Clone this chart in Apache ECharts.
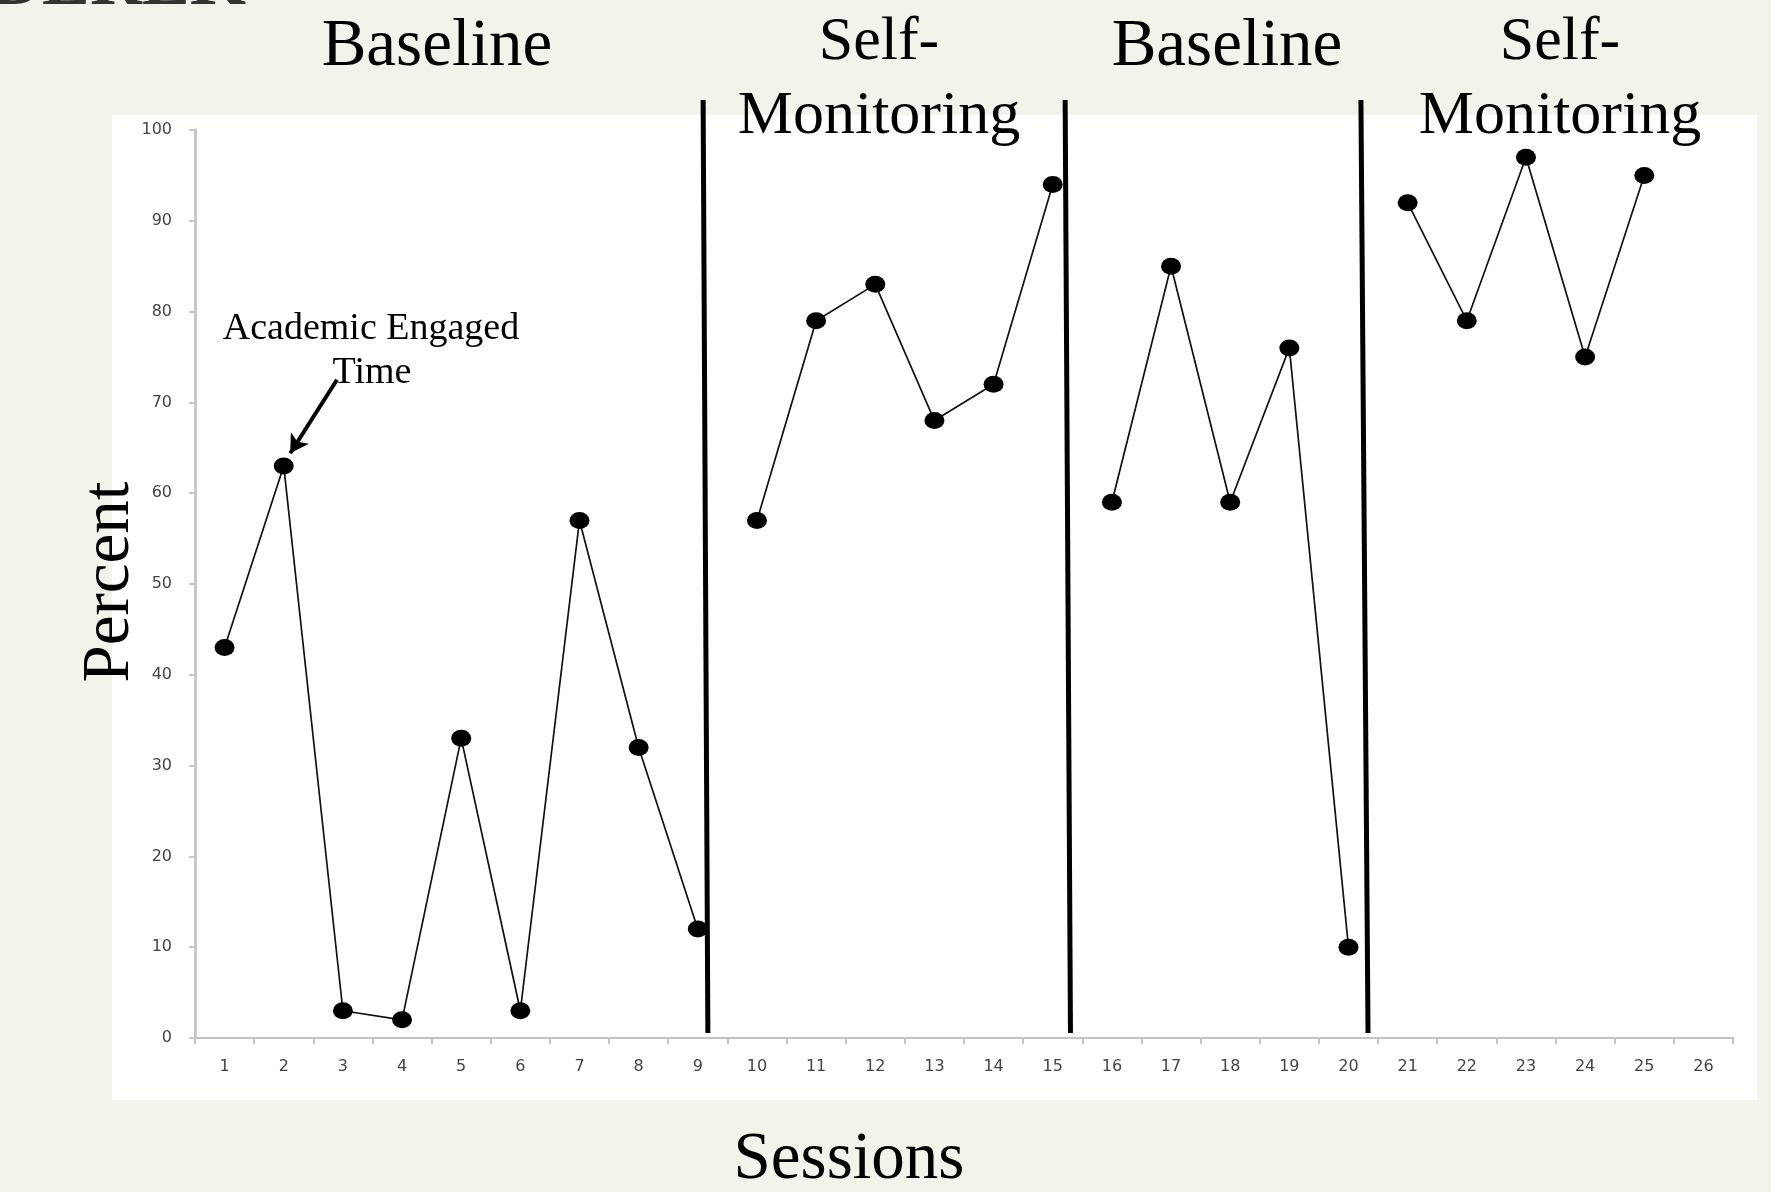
<!DOCTYPE html>
<html>
<head>
<meta charset="utf-8">
<script src="https://cdn.jsdelivr.net/npm/echarts@6/dist/echarts.min.js"></script>
<style>
html,body{margin:0;padding:0;background:#f3f3eb;}
#chart{width:1771px;height:1192px;}
</style>
</head>
<body>
<div id="chart"></div>
<script>
// ---- data ----
const sessions = ['1','2','3','4','5','6','7','8','9','10','11','12','13','14','15','16','17','18','19','20','21','22','23','24','25','26'];
const percent = [43,63,3,2,33,3,57,32,12, 57,79,83,68,72,94, 59,85,59,76,10, 92,79,97,75,95, '-'];
// phases: index ranges (inclusive, 0-based) of sessions
const phaseStart = [0, 9, 15, 20];
const phaseEnd   = [8, 14, 19, 24];
const phaseNames = ['Baseline', 'Self-\nMonitoring', 'Baseline', 'Self-\nMonitoring'];
// phase-change lines (session position at top and bottom of the drawn line)
const phaseLineTop    = [9.09, 15.21, 20.21];
const phaseLineBottom = [9.17, 15.30, 20.33];
const phaseLineY = [103.3, 0.55];
// y ticks
const yMin = 0, yMax = 100, yStep = 10;
// annotation arrow (session, percent): from -> to
const arrowFrom = [2.90, 72.5];
const arrowTo   = [2.11, 64.4];
const annotationText = 'Academic Engaged\nTime';

const chart = echarts.init(document.getElementById('chart'), null, {renderer:'canvas'});

const series = [];
phaseStart.forEach((s, k) => {
  series.push({
    type: 'line',
    xAxisIndex: 0,
    yAxisIndex: 0,
    data: percent.map((v, i) => (i >= s && i <= phaseEnd[k]) ? v : '-'),
    symbol: 'circle',
    symbolSize: [20, 17],
    itemStyle: {color: '#000'},
    lineStyle: {color: '#111', width: 1.7},
    connectNulls: false,
    z: 3
  });
});
phaseLineTop.forEach((t, k) => {
  series.push({
    type: 'line',
    xAxisIndex: 1,
    yAxisIndex: 0,
    data: [[t, phaseLineY[0]], [phaseLineBottom[k], phaseLineY[1]]],
    symbol: 'none',
    clip: false,
    lineStyle: {color: '#000', width: 5},
    z: 4
  });
});
series.push({
  type: 'line',
  xAxisIndex: 1,
  yAxisIndex: 0,
  data: [],
  symbol: 'none',
  markLine: {
    silent: true,
    symbol: ['none', 'arrow'],
    symbolSize: [16, 18],
    lineStyle: {color: '#000', width: 4, type: 'solid'},
    label: {show: false},
    data: [[{coord: arrowFrom}, {coord: arrowTo}]]
  }
});

const serif = '"Liberation Serif", "Times New Roman", serif';
const graphics = [
  {type:'rect', left:112, top:115, shape:{width:1645, height:985}, style:{fill:'#ffffff'}, z:-10, silent:true},
  {type:'text', x:-10, y:-15, style:{text:'DEREK', font:'bold 72px ' + serif, fill:'#333', textVerticalAlign:'middle'}},
  {type:'text', x:437, y:47, style:{text:'Baseline', font:'67px ' + serif, fill:'#000', textAlign:'center', textVerticalAlign:'middle'}, z:10},
  {type:'text', x:879, y:43, style:{text:'Self-', font:'62px ' + serif, fill:'#000', textAlign:'center', textVerticalAlign:'middle'}, z:10},
  {type:'text', x:879, y:117, style:{text:'Monitoring', font:'62px ' + serif, fill:'#000', textAlign:'center', textVerticalAlign:'middle'}, z:10},
  {type:'text', x:1227, y:47, style:{text:'Baseline', font:'67px ' + serif, fill:'#000', textAlign:'center', textVerticalAlign:'middle'}, z:10},
  {type:'text', x:1560, y:43, style:{text:'Self-', font:'62px ' + serif, fill:'#000', textAlign:'center', textVerticalAlign:'middle'}, z:10},
  {type:'text', x:1560, y:117, style:{text:'Monitoring', font:'62px ' + serif, fill:'#000', textAlign:'center', textVerticalAlign:'middle'}, z:10},
  {type:'text', x:849, y:1160, style:{text:'Sessions', font:'67px ' + serif, fill:'#000', textAlign:'center', textVerticalAlign:'middle'}, z:10},
  {type:'text', x:110, y:582, rotation:Math.PI/2, style:{text:'Percent', font:'67px ' + serif, fill:'#000', textAlign:'center', textVerticalAlign:'middle'}, z:10},
  {type:'text', x:371, y:329, style:{text:annotationText.split('\n')[0], font:'38px ' + serif, fill:'#000', textAlign:'center', textVerticalAlign:'middle'}, z:10},
  {type:'text', x:372, y:373, style:{text:annotationText.split('\n')[1], font:'38px ' + serif, fill:'#000', textAlign:'center', textVerticalAlign:'middle'}, z:10}
];

chart.setOption({
  animation: false,
  backgroundColor: '#f3f3eb',
  grid: {left:195, right:38, top:130, bottom:154, containLabel:false},
  xAxis: [
    {
      type: 'category',
      data: sessions,
      boundaryGap: true,
      axisLine: {lineStyle: {color:'#c4c4c4', width:2}},
      axisTick: {show:true, length:6, lineStyle:{color:'#c4c4c4', width:2}},
      axisLabel: {color:'#444', fontSize:16, fontFamily:'"DejaVu Sans", Verdana, sans-serif', margin:21},
      splitLine: {show:false}
    },
    {
      type: 'value',
      min: 0.5,
      max: 26.5,
      show: false
    }
  ],
  yAxis: {
    type: 'value',
    min: yMin,
    max: yMax,
    interval: yStep,
    axisLine: {show:true, lineStyle:{color:'#c8c8c8', width:3}},
    axisTick: {show:true, length:6, lineStyle:{color:'#c8c8c8', width:2}},
    axisLabel: {color:'#444', fontSize:16, fontFamily:'"DejaVu Sans", Verdana, sans-serif', margin:23},
    splitLine: {show:false}
  },
  series: series,
  graphic: graphics
});
</script>
</body>
</html>
